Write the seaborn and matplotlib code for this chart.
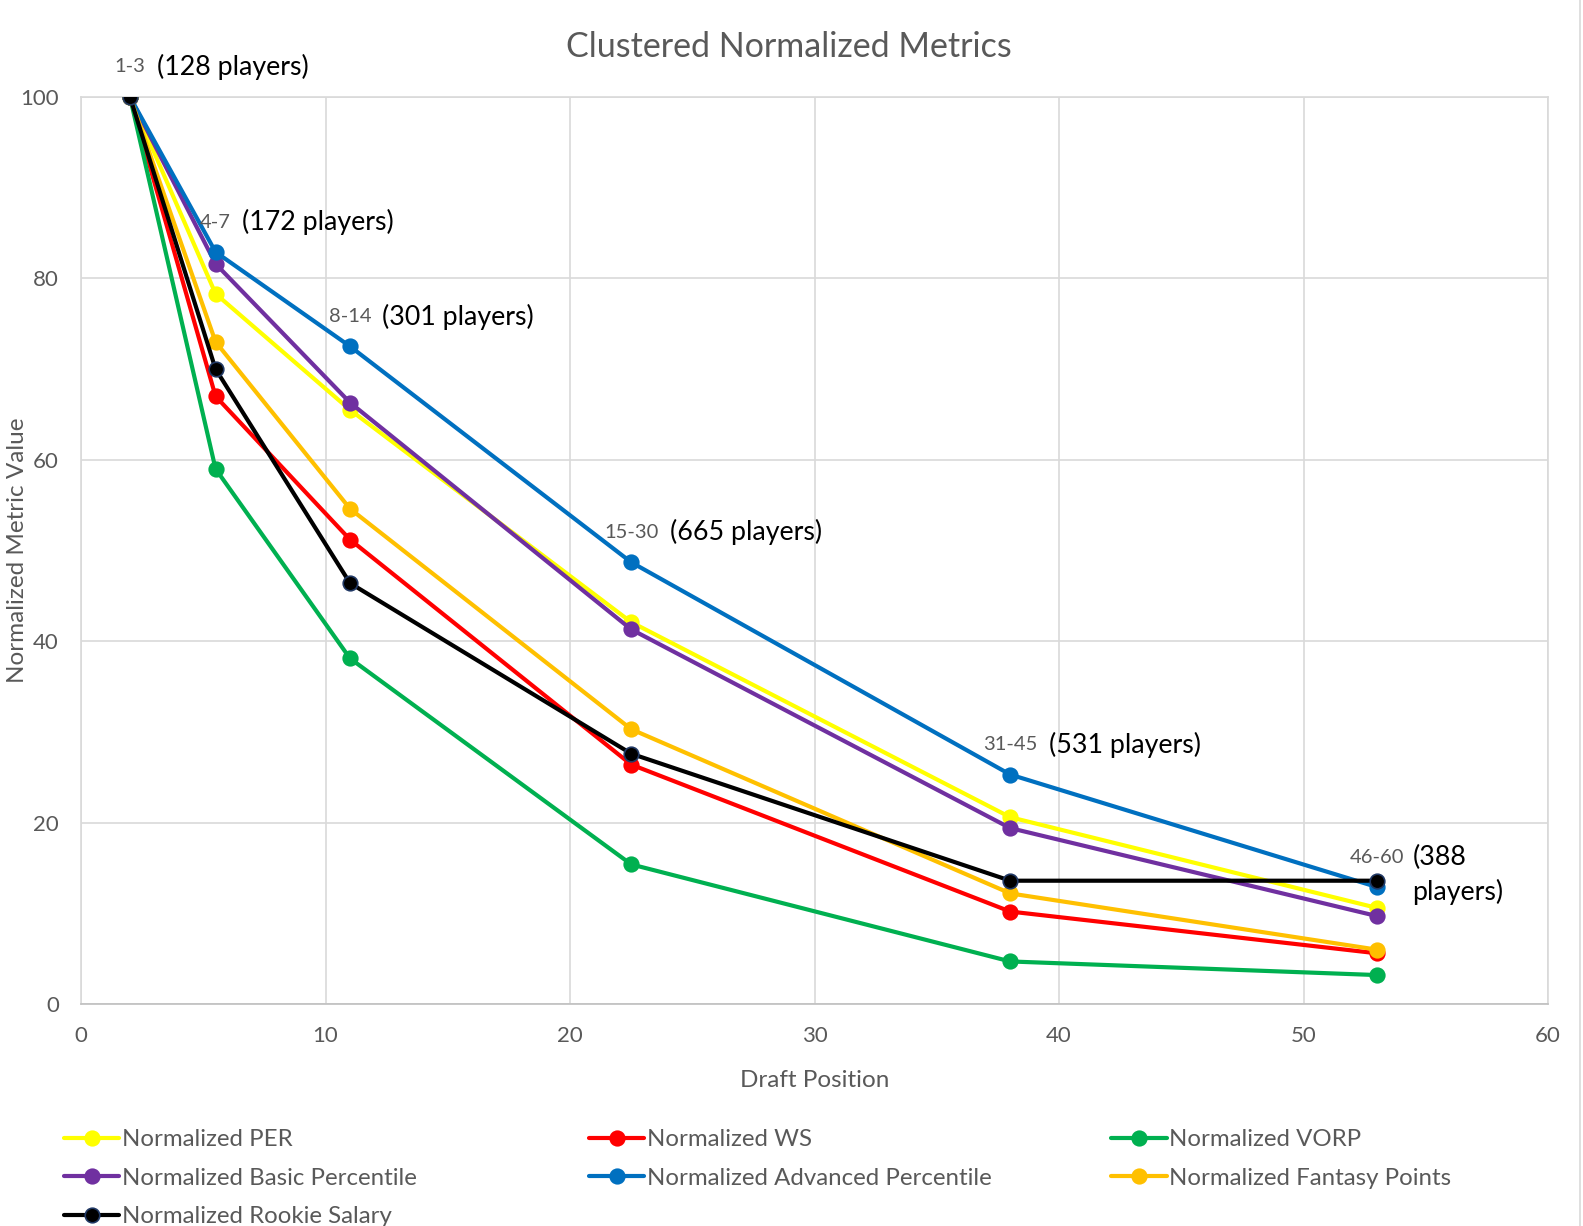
import matplotlib
matplotlib.use("Agg")
import matplotlib.pyplot as plt
from matplotlib.lines import Line2D
import seaborn as sns
import pandas as pd

# ---------------- data ----------------
draft_position = [2, 5.5, 11, 22.5, 38, 53]
cluster_ranges = ["1-3", "4-7", "8-14", "15-30", "31-45", "46-60"]
cluster_counts = ["(128 players)", "(172 players)", "(301 players)", "(665 players)",
                  "(531 players)", "(388\nplayers)"]

per = [100, 78.3, 65.5, 42.1, 20.6, 10.6]
ws = [100, 67.0, 51.2, 26.4, 10.2, 5.6]
vorp = [100, 59.0, 38.1, 15.4, 4.7, 3.2]
basic_pct = [100, 81.6, 66.3, 41.3, 19.4, 9.7]
advanced_pct = [100, 82.9, 72.5, 48.7, 25.3, 12.9]
fantasy = [100, 73.0, 54.6, 30.3, 12.2, 6.0]
rookie_salary = [100, 70.0, 46.4, 27.6, 13.6, 13.6]

series_names = ["Normalized PER", "Normalized WS", "Normalized VORP",
                "Normalized Basic Percentile", "Normalized Advanced Percentile",
                "Normalized Fantasy Points", "Normalized Rookie Salary"]
series_values = [per, ws, vorp, basic_pct, advanced_pct, fantasy, rookie_salary]
series_colors = ["#FFFF00", "#FF0000", "#00B050", "#7030A0", "#0070C0", "#FFC000", "#000000"]
edge_colors = ["#FFFF00", "#FF0000", "#00B050", "#7030A0", "#0070C0", "#FFC000", "#203864"]

# ---------------- style ----------------
sns.set_theme(style="white")
plt.rcParams['font.family'] = ['Lato', 'DejaVu Sans']
text_gray = "#595959"
grid_gray = "#D9D9D9"

fig, ax = plt.subplots(figsize=(15.83, 12.26), dpi=100)
fig.subplots_adjust(left=0.0512, right=0.978, top=0.921, bottom=0.181)

rows = []
for name, vals in zip(series_names, series_values):
    for x, v in zip(draft_position, vals):
        rows.append({"Draft Position": x, "Value": v, "Series": name})
df = pd.DataFrame(rows)

handles = {}
for i, name in enumerate(series_names):
    sub = df[df["Series"] == name]
    sns.lineplot(data=sub, x="Draft Position", y="Value", ax=ax, color=series_colors[i],
                 marker="o", markersize=10.5, markeredgecolor=edge_colors[i],
                 markeredgewidth=1.2, linewidth=3.0, label=name, zorder=3 + i,
                 legend=False, errorbar=None)
    handles[name] = ax.lines[-1]

ax.set_xlim(0, 60)
ax.set_ylim(0, 100)
ax.set_xticks(range(0, 61, 10))
ax.set_yticks(range(0, 101, 20))
ax.grid(True, color=grid_gray, linewidth=1.2)
ax.set_axisbelow(True)
for side in ["left", "right", "top"]:
    ax.spines[side].set_color(grid_gray)
    ax.spines[side].set_linewidth(1.2)
ax.spines["bottom"].set_color("#BFBFBF")
ax.spines["bottom"].set_linewidth(1.2)
ax.tick_params(axis="both", length=0, labelsize=16, colors=text_gray)
ax.tick_params(axis="x", pad=16)
ax.tick_params(axis="y", pad=16)

ax.set_xlabel("Draft Position", fontsize=17.5, color=text_gray, labelpad=17)
ax.set_ylabel("Normalized Metric Value", fontsize=17.5, color=text_gray)
ax.yaxis.label.set_va("center")
ax.yaxis.set_label_coords(-0.0435, 0.5)

# title centred on the whole figure
fig.text(0.4985, 0.9615, "Clustered Normalized Metrics", fontsize=24.5, color=text_gray,
         ha="center", va="center")

# cluster annotations anchored at the top (Advanced Percentile) points
for x, y, rng, cnt in zip(draft_position, advanced_pct, cluster_ranges, cluster_counts):
    g = ax.annotate(rng, xy=(x, y), xytext=(0, 21.5), textcoords="offset points",
                    ha="center", va="center", fontsize=14.5, color=text_gray, zorder=20)
    if "\n" in cnt:
        ax.annotate(cnt, xy=(1, 1), xycoords=g, xytext=(6, 3), textcoords="offset points",
                    ha="left", va="top", fontsize=19.3, color="black",
                    linespacing=1.45, zorder=20)
    else:
        ax.annotate(cnt, xy=(1, 0.5), xycoords=g, xytext=(8, 0), textcoords="offset points",
                    ha="left", va="center", fontsize=19.3, color="black", zorder=20)

# legend: three columns, row-major order like the reference
legend_columns = [["Normalized PER", "Normalized Basic Percentile", "Normalized Rookie Salary"],
                  ["Normalized WS", "Normalized Advanced Percentile"],
                  ["Normalized VORP", "Normalized Fantasy Points"]]
col_x = [0.0404, 0.372, 0.702]
for cx, names in zip(col_x, legend_columns):
    leg = fig.legend([handles[n] for n in names], names, loc="upper left",
                     bbox_to_anchor=(cx, 0.0788), frameon=False, borderpad=0,
                     borderaxespad=0, fontsize=17.3, handlelength=2.3,
                     handletextpad=0.1, labelspacing=0.72)
    for t in leg.get_texts():
        t.set_color(text_gray)

# chart-area border on the right edge
fig.add_artist(Line2D([0.998, 0.998], [0, 1], transform=fig.transFigure,
                      color=grid_gray, linewidth=1.2))

fig.savefig("out.png", dpi=100)
